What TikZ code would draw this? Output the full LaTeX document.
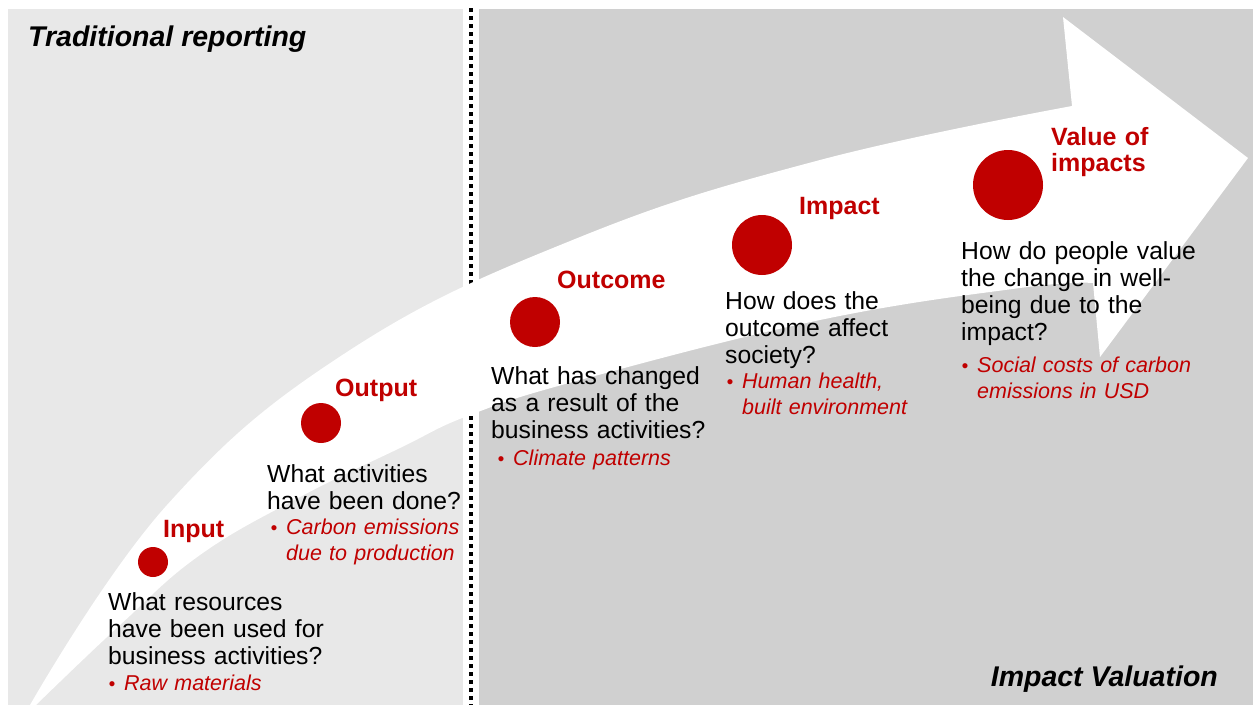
\documentclass[tikz,border=0pt]{standalone}
\usepackage{fontspec}
\setmainfont{Liberation Sans}
\usetikzlibrary{positioning}
\definecolor{vred}{HTML}{C00000}
\definecolor{panelleft}{HTML}{E8E8E8}
\definecolor{panelright}{HTML}{D0D0D0}
\newcommand{\exbullet}{\llap{{\fontsize{19}{19}\selectfont\textbullet}\hspace{9pt}}}
\tikzset{
    stagedot/.style = {circle, fill=vred, inner sep=0pt},
    stagename/.style = {anchor=base west, inner sep=0pt, text width=140pt, align=left, text=vred, font=\bfseries\fontsize{25}{26}\selectfont},
    question/.style = {anchor=base west, inner sep=0pt, text width=270pt, align=left, text=black, font=\fontsize{24.7}{27}\selectfont},
    example/.style = {anchor=base west, inner sep=0pt, text width=260pt, align=left, text=vred, font=\itshape\fontsize{21.5}{26}\selectfont},
    paneltitle/.style = {inner sep=0pt, font=\bfseries\itshape\fontsize{28.5}{30}\selectfont},
    divider/.style = {line width=4pt, dash pattern=on 4pt off 4pt, black}, % dotted border
}

\begin{document}
\begin{tikzpicture}[x=1pt, y=-1pt]
  \useasboundingbox (0,0) rectangle (1253,705);
  \fill[white] (0,0) rectangle (1253,705);
  % panels
  \fill[panelleft] (8,9) rectangle (463,705);
  \fill[panelright] (479,9) rectangle (1253,705);
  \coordinate (divtop) at (471,8);
  \coordinate (divbot) at (471,705);
  \draw[divider] (divtop) -- (divbot);
  % big arrow
  \fill[white] plot[smooth, tension=0.7] coordinates {(30,705) (167,505) (350,350) (580,237) (820,160) (1072,106)}
    -- (1063,17) -- (1248,158) -- (1100,357)
    -- plot[smooth, tension=0.7] coordinates {(1093,283) (1020,288) (820,320) (580,380) (470,415) (400,448) (300,497) (200,555) (120,625) (36,705)}
    -- cycle;

  \node[paneltitle, anchor=base west] (trad) at (28,46) {Traditional reporting};
  \node[paneltitle, anchor=base east] (valu) at (1218,686) {Impact Valuation};

  % stages
  \node[stagedot, minimum size=30pt] (input) at (153,562) {};
  \node[stagedot, minimum size=40pt] (output) at (321,423) {};
  \node[stagedot, minimum size=50pt] (outcome) at (535,322) {};
  \node[stagedot, minimum size=60pt] (impact) at (762,245) {};
  \node[stagedot, minimum size=70pt] (value) at (1008,185) {};

  \node[stagename] (inputname) at (163,537) {Input};
  \node[stagename] (outputname) at (335,396) {Output};
  \node[stagename] (outcomename) at (557,288) {Outcome};
  \node[stagename] (impactname) at (799,214) {Impact};
  \node[stagename] (valuename) at (1051,145) {Value of\\impacts};

  \node[question] (inputq) at (108,610) {What resources\\have been used for\\business activities?};
  \node[question] (outputq) at (267,482) {What activities\\have been done?};
  \node[question] (outcomeq) at (491,384) {What has changed\\as a result of the\\business activities?};
  \node[question] (impactq) at (725,309) {How does the\\outcome affect\\society?};
  \node[question] (valueq) at (961,259) {How do people value\\the change in well-\\being due to the\\impact?};

  \node[example] (inputex) at (124,690) {\exbullet Raw materials};
  \node[example] (outputex) at (286,534) {\exbullet Carbon emissions\\due to production};
  \node[example] (outcomeex) at (513,465) {\exbullet Climate patterns};
  \node[example] (impactex) at (742,388) {\exbullet Human health,\\built environment};
  \node[example] (valueex) at (977,372) {\exbullet Social costs of carbon\\emissions in USD};
\end{tikzpicture}
\end{document}
